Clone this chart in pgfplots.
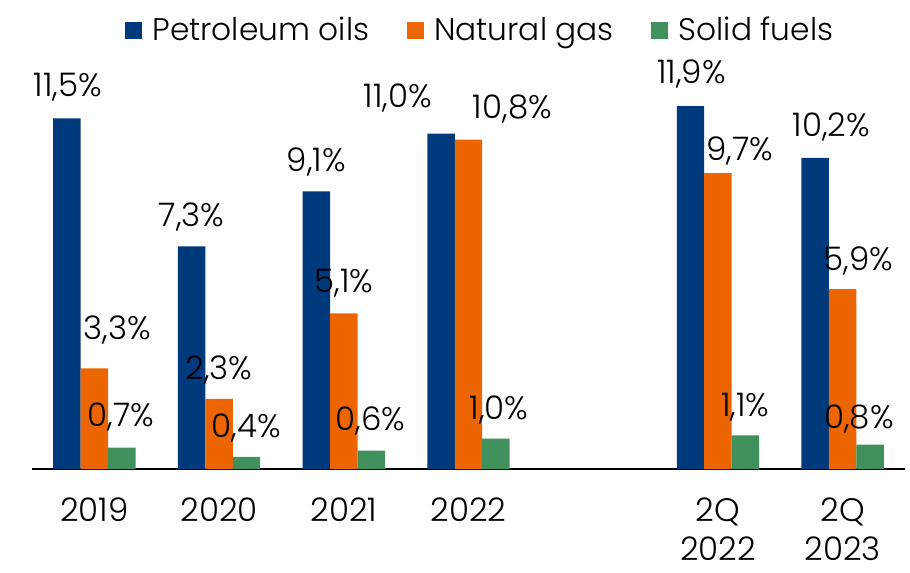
\documentclass[border=0pt]{standalone}
\usepackage{pgfplots}
\pgfplotsset{compat=1.18}
\usepackage{pgfplotstable}
\usepackage{fontspec}
\setmainfont{Poppins Light}

\definecolor{oilblue}{RGB}{0,58,124}
\definecolor{gasorange}{RGB}{236,101,0}
\definecolor{solidgreen}{RGB}{64,145,92}

% x = slot (4 is the empty gap), dx/dy = label nudge in pt
\pgfplotstableread{
x y dx dy
0 11.5 0.4 8.6
1 7.3 0 7.8
2 9.1 0 7.8
3 11.0 -17.2 10.6
5 11.9 0.4 9.0
6 10.2 6.4 8.6
}\oil
\pgfplotstableread{
x y dx dy
0 3.3 9.2 11.4
1 2.3 0 7.8
2 5.1 0 8.2
3 10.8 17.6 8.6
5 9.7 8.8 5.0
6 5.9 6.4 7.4
}\gas
\pgfplotstableread{
x y dx dy
0 0.7 -0.4 8.6
1 0.4 0 7.8
2 0.6 -0.4 8.2
3 1.0 1.2 7.8
5 1.1 0 7.4
6 0.8 -4.4 6.6
}\solid

\newcommand{\lbl}{\fontsize{13pt}{15.5pt}\selectfont}
\newcommand{\leg}{\fontsize{12.5pt}{15pt}\selectfont}

\begin{document}
\begin{tikzpicture}
\useasboundingbox (0,0) rectangle (364pt,228.8pt);
\begin{axis}[
    at={(12.8pt,41.2pt)}, anchor=south west,
    scale only axis, width=349.2pt, height=170.8pt,
    xmin=-0.5, xmax=6.5, ymin=0, ymax=14,
    axis x line*=bottom, axis y line=none,
    x axis line style={line width=0.8pt},
    ytick=\empty,
    xtick={0,1,2,3,5,6},
    xticklabels={2019,2020,2021,2022,{2Q\\2022},{2Q\\2023}},
    xticklabel style={align=center, font=\lbl, yshift=-8pt},
    major tick length=0pt,
    clip=false,
    ybar=0pt, bar width=0.22,
    legend image code/.code={\fill[#1] (0pt,-3.4pt) rectangle (6.8pt,3.4pt); \path (9pt,0pt);},
    legend style={at={(0.515,1.026)}, anchor=center, draw=none, fill=none,
        font=\leg, /tikz/every even column/.append style={column sep=13pt}},
    legend columns=3,
    /pgf/number format/assume math mode=true,
    nodes near coords={\pgfmathprintnumber[fixed,fixed zerofill,precision=1,use comma]{\pgfplotspointmeta}\%},
    nodes near coords align={anchor=base},
    visualization depends on={\thisrow{dx} \as \dx},
    visualization depends on={\thisrow{dy} \as \dy},
    every node near coord/.append style={font=\lbl, text=black, xshift=\dx pt, yshift=\dy pt},
]
\addplot[fill=oilblue, draw=none, bar shift=-0.22] table[x=x, y=y] {\oil};
\addplot[fill=gasorange, draw=none, bar shift=0] table[x=x, y=y] {\gas};
\addplot[fill=solidgreen, draw=none, bar shift=0.22] table[x=x, y=y] {\solid};
\legend{Petroleum oils, Natural gas, Solid fuels}
\end{axis}
\end{tikzpicture}
\end{document}
